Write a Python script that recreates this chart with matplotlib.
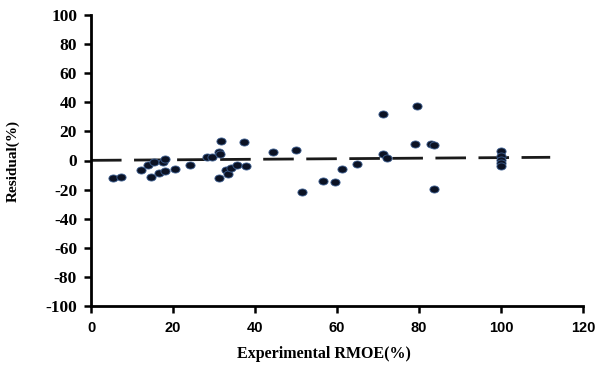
import matplotlib
matplotlib.use("Agg")
import matplotlib.pyplot as plt
from matplotlib.path import Path
import numpy as np

plt.rcParams['axes.unicode_minus'] = False

# Data
experimental = [5.4, 7.3, 12.1, 13.8, 14.6, 15.4, 16.6, 17.6, 18.1, 18.1, 20.5, 24.1,
                28.4, 29.5, 31.1, 31.6, 31.5, 31.1, 32.9, 33.4, 34.1, 35.6, 37.4, 37.7,
                44.3, 49.9, 51.5, 56.7, 59.5, 61.1, 64.9, 71.1, 71.2, 72.2,
                79.4, 79.1, 83.0, 83.7, 83.6,
                100, 100, 100, 100, 100]
residual = [-12.2, -11.3, -6.5, -3.3, -11.5, -1.2, -8.4, -1.2, 1.2, -7.0, -6.0, -3.1,
            2.2, 2.6, 6.0, 13.6, 4.5, -12.0, -6.5, -9.3, -5.4, -3.3, 12.7, -3.6,
            5.6, 7.2, -21.4, -13.9, -14.6, -5.6, -2.4, 31.7, 4.2, 1.9,
            37.5, 11.3, 11.1, 10.7, -19.4,
            6.2, 3.2, 0.5, -1.5, -3.8]
trend_x = [0, 112]
trend_y = [0.1, 2.2]

x_ticks = [0, 20, 40, 60, 80, 100, 120]
y_ticks = [-100, -80, -60, -40, -20, 0, 20, 40, 60, 80, 100]

fig = plt.figure(figsize=(5.99, 3.67), dpi=100)
ax = fig.add_axes([91/599, 1-306/367, (583-91)/599, (306-15)/367])

# ellipse marker (wider than tall)
t = np.linspace(0, 2*np.pi, 40)
ell = Path(np.column_stack([1.3*np.cos(t), np.sin(t)]), closed=True)

ax.plot(trend_x, trend_y, color='#1a1a1a', lw=2.0, dashes=(11, 4.5), zorder=2)
ax.scatter(experimental, residual, marker=ell, s=44, facecolor='#0b1224',
           edgecolor='#3d5f91', linewidths=0.6, zorder=3)

ax.set_xlim(0, 120)
ax.set_ylim(-100, 100)
ax.set_xticks(x_ticks)
ax.set_yticks(y_ticks)

for s in ['top', 'right']:
    ax.spines[s].set_visible(False)
for s in ['left', 'bottom']:
    ax.spines[s].set_linewidth(2.0)
    ax.spines[s].set_color('black')

ax.tick_params(axis='both', direction='out', length=5, width=1.8, colors='black')
ax.tick_params(axis='y', pad=5)
ax.tick_params(axis='x', pad=6)

for lab in ax.get_yticklabels():
    lab.set_fontfamily('Liberation Serif')
    lab.set_fontweight('bold')
    lab.set_fontsize(12.5)
for lab in ax.get_xticklabels():
    lab.set_fontfamily('Liberation Sans')
    lab.set_fontweight('bold')
    lab.set_fontsize(10.5)

ax.set_xlabel('Experimental RMOE(%)', fontfamily='Liberation Serif', fontweight='bold',
              fontsize=11.5)
ax.xaxis.set_label_coords((324-91)/(583-91), -0.165)
ax.xaxis.label.set_verticalalignment('center')
ax.set_ylabel('Residual(%)', fontfamily='Liberation Serif', fontweight='bold',
              fontsize=11)
ax.yaxis.set_label_coords((20-91)/(583-91), 0.5)

fig.savefig('out.png', dpi=100)
